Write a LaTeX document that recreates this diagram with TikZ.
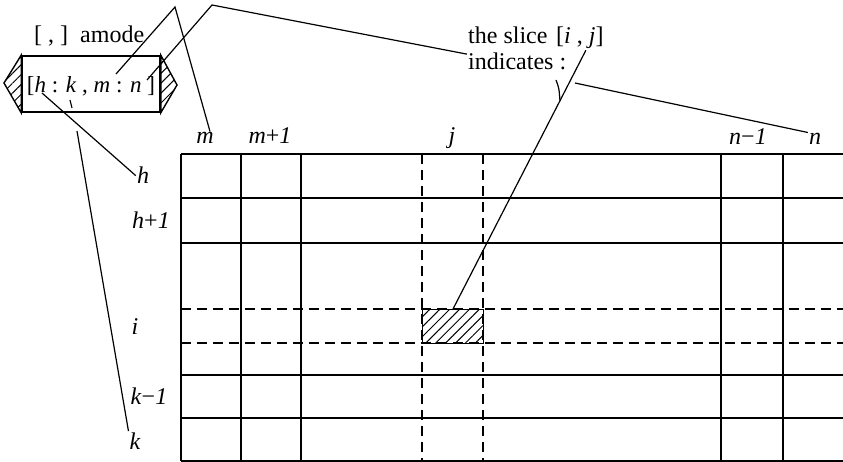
\documentclass[tikz,border=0pt]{standalone}
\usepackage{fontspec}
\setmainfont{Liberation Serif}
\usetikzlibrary{patterns.meta}
\begin{document}
\begin{tikzpicture}[x=1pt,y=-1pt,
  font=\fontsize{24}{28}\selectfont,
  gridline/.style={line width=1.4pt},
  dgridline/.style={line width=1.3pt, dash pattern=on 10pt off 6pt},
  conn/.style={line width=1.2pt},
  hatch/.style={pattern={Lines[angle=45,distance=7pt,line width=1pt]}},
  lab/.style={inner sep=1pt, anchor=base, font=\fontsize{24}{28}\selectfont\itshape},
  txt/.style={inner sep=1pt, anchor=base west}]
\useasboundingbox (0,0) rectangle (843,462);
% grid
\foreach \x in {181,241,301,721,783} \draw[gridline] (\x,154) -- (\x,461);
\foreach \y in {154,198,243,375,418,461} \draw[gridline] (181,\y) -- (843,\y);
\foreach \x in {422,483} \draw[dgridline] (\x,154) -- (\x,461);
\foreach \y in {309,343} \draw[dgridline] (181,\y) -- (843,\y);
\node[draw, line width=1.4pt, hatch, anchor=north west, minimum width=61pt, minimum height=34pt, inner sep=0pt] (slice) at (422,309) {};
% amode box
\node[draw, line width=1.6pt, minimum width=138pt, minimum height=56pt, inner sep=0pt] (amode) at (91,84) {};
\draw[line width=1.4pt, hatch] (amode.north west) -- (4,83) -- (amode.south west) -- cycle;
\draw[line width=1.4pt, hatch] (amode.north east) -- (177,85) -- (amode.south east) -- cycle;
\node[inner sep=0pt, font=\fontsize{23}{27}\selectfont] (amtext) at (91,86) {[\textit{h} : \textit{k} , \textit{m} : \textit{n} ]};
\node[txt] (amlabel) at (33,43) {[ , ]\ \ amode};
% texts top
\node[txt] (sl1) at (467,44) {the slice};
\node[txt] (sl2) at (467,70) {indicates :};
\node[txt] (ij) at (555,44) {[\textit{i} , \textit{j}]};
% column labels
\node[lab] (ml) at (205,144) {m};
\node[lab] (mpl) at (270,144) {m\textup{+}1};
\node[lab] (jl) at (452,144) {j};
\node[lab] (nml) at (748,145) {n\textup{−}1};
\node[lab] (nl) at (815,145) {n};
% row labels
\node[lab] (hl) at (143,184) {h};
\node[lab] (hpl) at (151,229) {h\textup{+}1};
\node[lab] (il) at (135,334) {i};
\node[lab] (kml) at (149,404) {k\textup{−}1};
\node[lab] (kl) at (135,449) {k};
% connector points
\coordinate (hpt) at (42,93);
\coordinate (kpt) at (77,131);
\coordinate (ktick1) at (70,100);
\coordinate (ktick2) at (72,108);
\coordinate (mpt) at (116,74);
\coordinate (apex1) at (175,7);
\coordinate (npt) at (147,80);
\coordinate (apex2) at (212,5);
\coordinate (colpt) at (575,83);
\coordinate (yst) at (556,80);
\coordinate (yend) at (560,101);
% connectors
\draw[conn] (hpt) -- (hl.west);
\draw[conn] (kpt) -- (kl.north west);
\draw[conn] (ktick1) -- (ktick2);
\draw[conn] (mpt) -- (apex1) -- ([xshift=5pt]ml.north);
\draw[conn] (npt) -- (apex2) -- ([yshift=-2pt]sl2.north west);
\draw[conn] (colpt) -- (nl.north west);
\draw[conn] ([xshift=6pt]ij.south) -- (slice.north);
\draw[conn] (yst) .. controls (559,88) .. (yend);
\end{tikzpicture}
\end{document}
